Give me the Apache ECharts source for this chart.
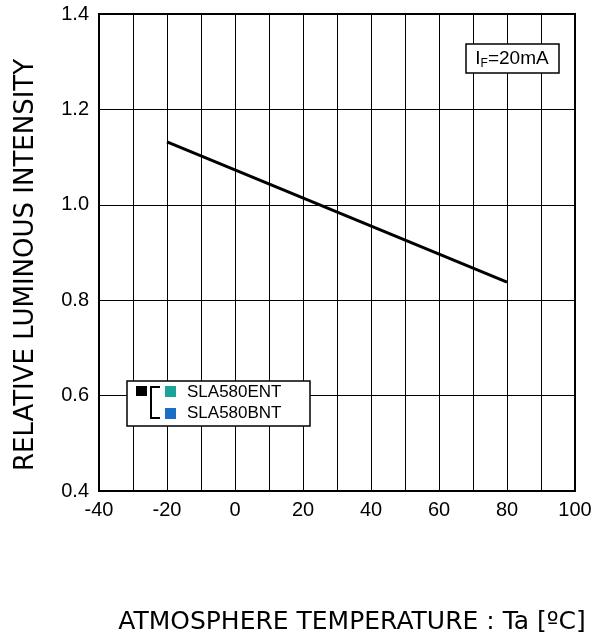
<!DOCTYPE html>
<html><head><meta charset="utf-8">
<script src="https://cdn.jsdelivr.net/npm/echarts@6/dist/echarts.min.js"></script>
<style>html,body{margin:0;padding:0;background:#fff}#c{width:602px;height:643px}</style>
</head><body><div id="c"></div>
<script>
const temps = [-20, 80];
const intensity = [1.132, 0.838];
const xTicks = [-40, -20, 0, 20, 40, 60, 80, 100];
const yTicks = [0.4, 0.6, 0.8, 1.0, 1.2, 1.4];
const legendNames = ['SLA580ENT', 'SLA580BNT'];
const legendColors = ['#1aa39a', '#1a6fc4'];

const chart = echarts.init(document.getElementById('c'));
const L = 99, T = 14, R = 575, B = 491;
chart.setOption({
  animation: false,
  grid: {left: L, top: T, width: R - L, height: B - T, show: true, borderColor: '#000', borderWidth: 2, backgroundColor: 'transparent'},
  xAxis: {
    type: 'value', min: -40, max: 100, interval: 10,
    axisLine: {show: false}, axisTick: {show: false},
    splitLine: {show: true, lineStyle: {color: '#000', width: 1}},
    axisLabel: {
      margin: 9, color: '#000', fontFamily: 'Liberation Sans, Arial', fontSize: 20,
      formatter: v => xTicks.includes(v) ? String(v) : ''
    }
  },
  yAxis: {
    type: 'value', min: 0.4, max: 1.4, interval: 0.2,
    axisLine: {show: false}, axisTick: {show: false},
    splitLine: {show: true, lineStyle: {color: '#000', width: 1}},
    axisLabel: {
      margin: 10, color: '#000', fontFamily: 'Liberation Sans, Arial', fontSize: 20,
      formatter: v => v.toFixed(1)
    }
  },
  graphic: [
    {type: 'text', x: 26, y: 265, rotation: Math.PI / 2,
     style: {text: 'RELATIVE LUMINOUS INTENSITY', fill: '#000', font: '26px "DejaVu Sans", Verdana', textAlign: 'center', textVerticalAlign: 'middle'}},
    {type: 'text', x: 352, y: 622,
     style: {text: 'ATMOSPHERE TEMPERATURE : Ta [ºC]', fill: '#000', font: '25px "DejaVu Sans", Verdana', textAlign: 'center', textVerticalAlign: 'middle'}},
    {type: 'rect', shape: {x: 466, y: 44, width: 93, height: 29}, style: {fill: '#fff', stroke: '#000', lineWidth: 1.5}, z: 10},
    {type: 'text', x: 512, y: 59, z: 11,
     style: {rich: {a: {fontSize: 19, fontFamily: 'Liberation Sans, Arial', fill: '#000'}, s: {fontSize: 12, fontFamily: 'Liberation Sans, Arial', fill: '#000', padding: [9, 0, 0, 0]}},
             text: '{a|I}{s|F}{a|=20mA}', textAlign: 'center', textVerticalAlign: 'middle'}},
    {type: 'rect', shape: {x: 127, y: 381, width: 183, height: 45}, style: {fill: '#fff', stroke: '#000', lineWidth: 1.5}, z: 10},
    {type: 'rect', shape: {x: 136, y: 386, width: 11, height: 10}, style: {fill: '#000'}, z: 11},
    {type: 'polyline', shape: {points: [[160, 387], [151, 387], [151, 418], [160, 418]]}, style: {stroke: '#000', lineWidth: 2, fill: null}, z: 11},
    {type: 'rect', shape: {x: 165, y: 386, width: 11, height: 11}, style: {fill: legendColors[0]}, z: 11},
    {type: 'rect', shape: {x: 165, y: 408, width: 11, height: 11}, style: {fill: legendColors[1]}, z: 11},
    {type: 'text', x: 187, y: 392, z: 11, style: {text: legendNames[0], fill: '#000', font: '17px "Liberation Sans", Arial', textVerticalAlign: 'middle'}},
    {type: 'text', x: 187, y: 413, z: 11, style: {text: legendNames[1], fill: '#000', font: '17px "Liberation Sans", Arial', textVerticalAlign: 'middle'}}
  ],
  series: [{
    type: 'line', name: legendNames.join('/'),
    data: temps.map((t, i) => [t, intensity[i]]),
    showSymbol: false, lineStyle: {color: '#000', width: 3}
  }]
});
</script></body></html>
